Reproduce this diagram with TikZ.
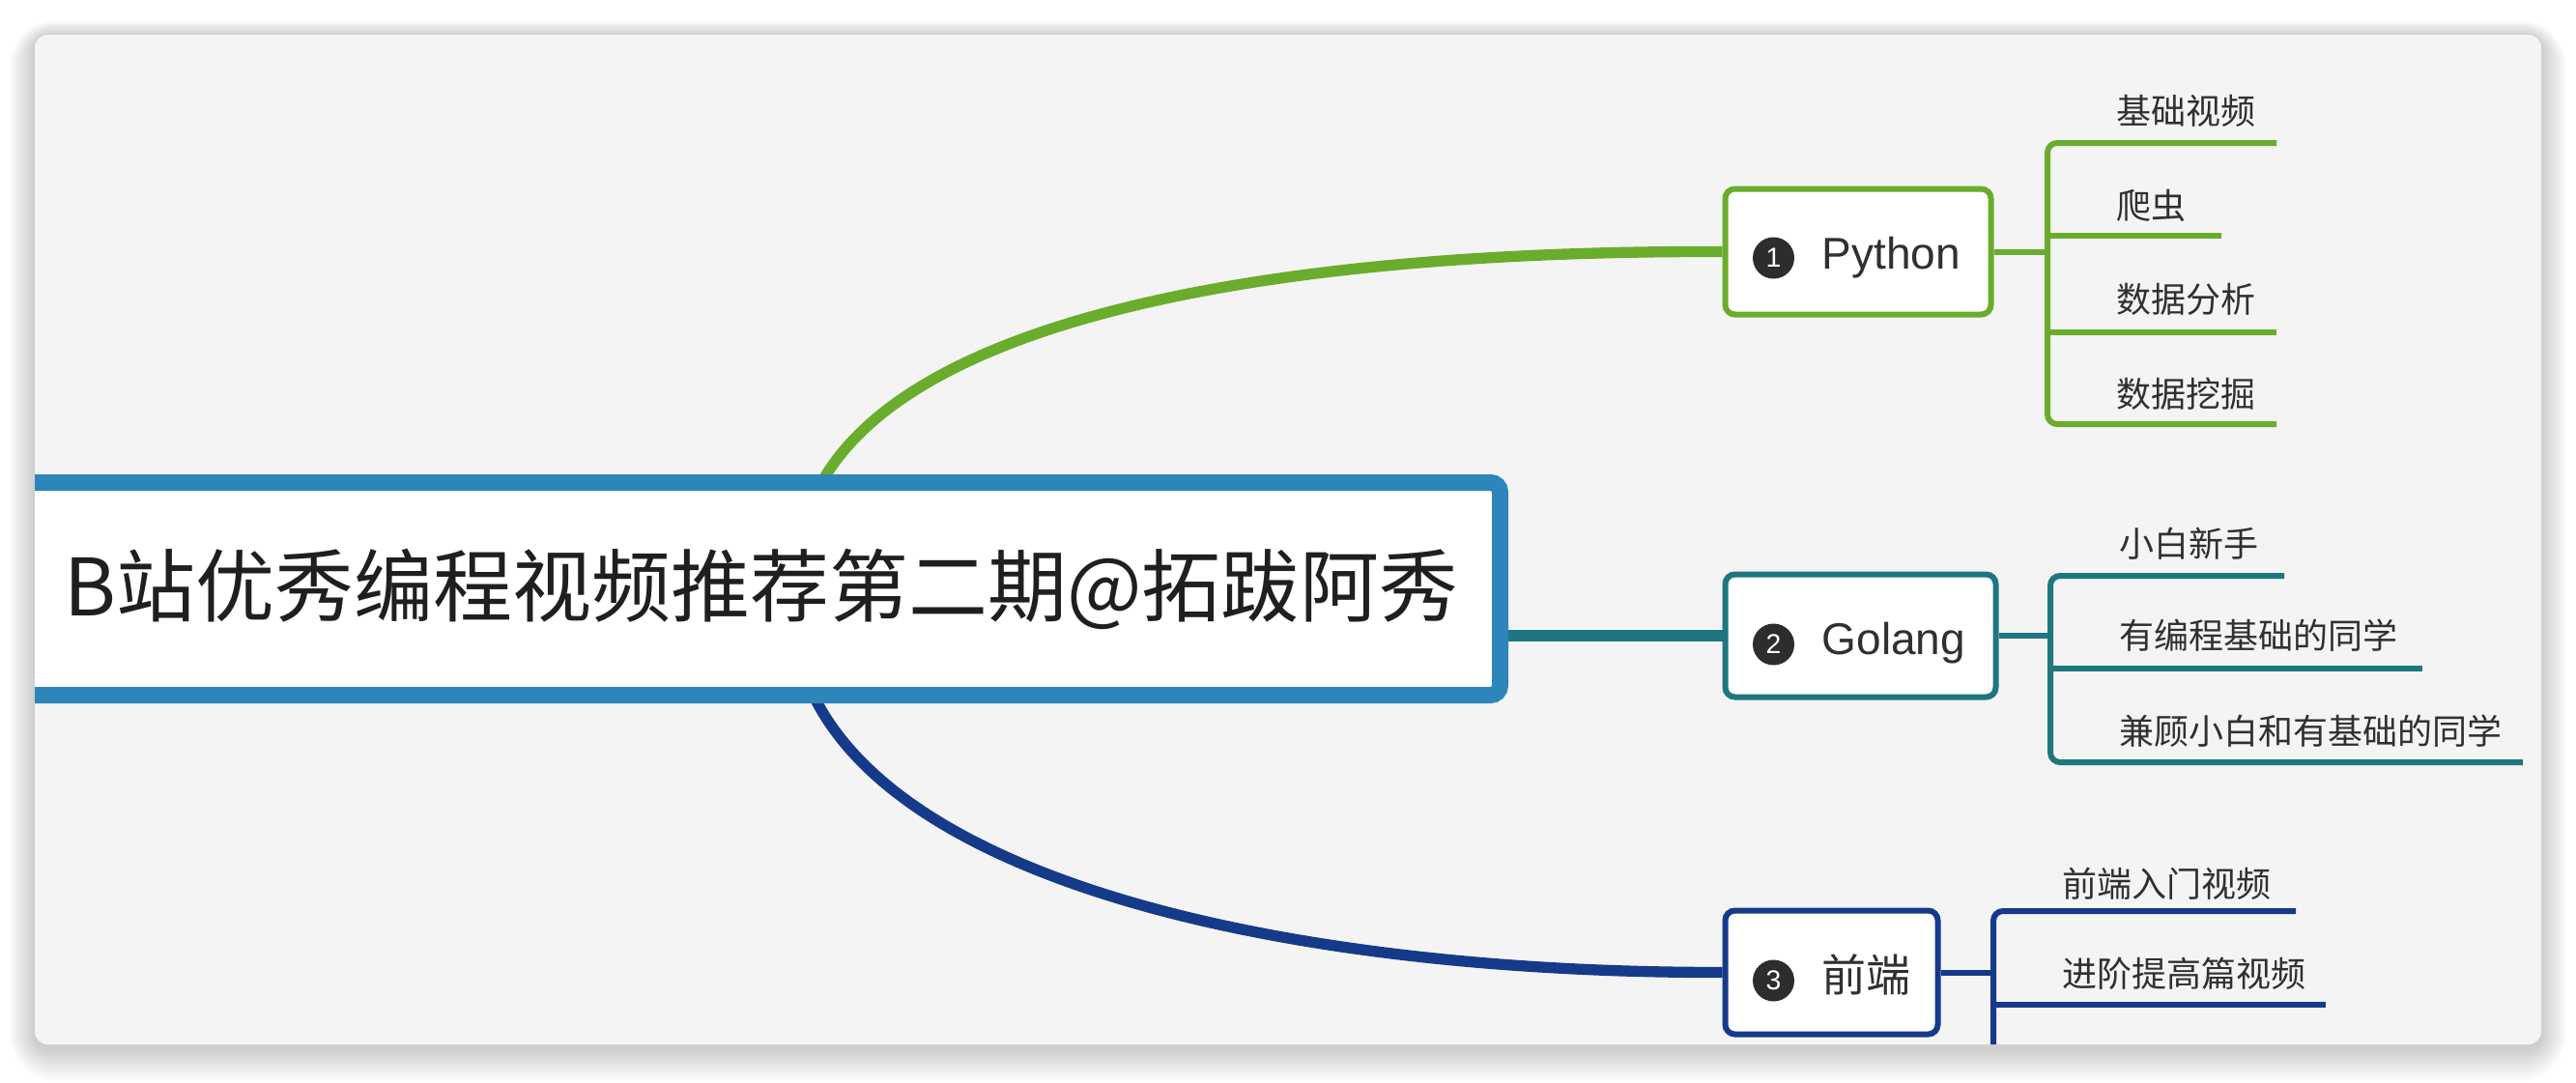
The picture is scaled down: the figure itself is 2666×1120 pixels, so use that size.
\documentclass[tikz,border=0pt]{standalone}
\usepackage{fontspec}
\setmainfont{Noto Sans CJK SC}
\newfontfamily\latinf{Liberation Sans}
\definecolor{panelbg}{RGB}{244,244,244}
\definecolor{rootblue}{RGB}{44,134,186}
\definecolor{cgreen}{RGB}{106,172,44}
\definecolor{cteal}{RGB}{30,118,128}
\definecolor{cnavy}{RGB}{22,58,138}
\definecolor{txt}{RGB}{48,48,48}
\definecolor{dotc}{RGB}{45,45,45}
\pgfdeclarelayer{back}
\pgfdeclarelayer{links}
\pgfsetlayers{back,links,main}
\begin{document}
\begin{tikzpicture}[x=0.3pt,y=-0.3pt,
 rootbox/.style={draw=rootblue, fill=white, line width=5.1pt, rounded corners=3pt,
   minimum width=458.7pt, minimum height=66pt, inner sep=0pt,
   font=\fontsize{24.6pt}{28pt}\selectfont, text=black!88},
 branchbox/.style={draw=#1, fill=white, line width=1.8pt, rounded corners=3pt, inner sep=0pt},
 numdot/.style={circle, fill=dotc, text=white, minimum size=12.9pt, inner sep=0pt,
   font=\latinf\fontsize{8.5pt}{9pt}\selectfont},
 branchtext/.style={text=txt, inner sep=0pt, anchor=base west, font=\latinf\fontsize{13.8pt}{16pt}\selectfont},
 branchcjk/.style={text=txt, inner sep=0pt, anchor=west, font=\fontsize{13.8pt}{16pt}\selectfont},
 leaf/.style={text=txt, inner sep=0pt, anchor=west, font=\fontsize{10.8pt}{12pt}\selectfont},
 mainline/.style={line width=3.4pt},
 subline/.style={line width=1.8pt},
 panelclip/.style={rounded corners=4pt},
]
% page, shadow and panel
\begin{pgfonlayer}{back}
\fill[white] (0,0) rectangle (2666,1120);
\foreach \i in {1,...,12}{
  \fill[black, opacity=0.014, rounded corners=4pt+\i*0.9pt]
    (36-\i*2.2, 36-\i*1.4+2) rectangle (2630+\i*2.2, 1081+\i*2.8+4);
}
\fill[panelbg, rounded corners=4pt] (36,36) rectangle (2630,1081);
\end{pgfonlayer}
\useasboundingbox (0,0) rectangle (2666,1120);

\begin{scope}
\clip[panelclip] (36,36) rectangle (2630,1081);
% root
\node[rootbox] (root) at (788,609.5) {B站优秀编程视频推荐第二期@拓跋阿秀};
\coordinate (rA) at (850,500);
\coordinate (rB) at (842,720);

% Python branch
\node[branchbox=cgreen, minimum width=82.5pt, minimum height=39pt] (py) at (1923,260.5) {};
\node[numdot] (n1) at (1835.5,267) {1};
\node[branchtext] (tpy) at (1885,278) {Python};
\node[leaf] (l11) at (2190,115) {基础视频};
\node[leaf] (l12) at (2190,213) {爬虫};
\node[leaf] (l13) at (2190,310) {数据分析};
\node[leaf] (l14) at (2190,408) {数据挖掘};
\coordinate (pyv1) at (2119,148);
\coordinate (pyv4) at (2119,439);
\coordinate (pye1) at (2356,148);
\coordinate (pye2) at (2299,244);
\coordinate (pye3) at (2356,344);
\coordinate (pye4) at (2356,439);

% Golang branch
\node[branchbox=cteal, minimum width=84pt, minimum height=38.1pt] (go) at (1925.5,658) {};
\node[numdot] (n2) at (1835.5,667) {2};
\node[branchtext] (tgo) at (1885,677) {Golang};
\node[leaf] (l21) at (2193,563) {小白新手};
\node[leaf] (l22) at (2193,658) {有编程基础的同学};
\node[leaf] (l23) at (2193,757) {兼顾小白和有基础的同学};
\coordinate (gov1) at (2122,596);
\coordinate (gov3) at (2122,789);
\coordinate (goe1) at (2364,596);
\coordinate (goe2) at (2507,692);
\coordinate (goe3) at (2611,789);

% Frontend branch
\node[branchbox=cnavy, minimum width=66pt, minimum height=38.4pt] (fe) at (1895.5,1006.5) {};
\node[numdot] (n3) at (1835.5,1015) {3};
\node[branchcjk] (tfe) at (1885,1009) {前端};
\node[leaf] (l31) at (2134,915) {前端入门视频};
\node[leaf] (l32) at (2134,1008) {进阶提高篇视频};
\coordinate (fev1) at (2063,943);
\coordinate (fev9) at (2063,1140);
\coordinate (fee1) at (2376,943);
\coordinate (fee2) at (2407,1040);
\end{scope}

% connectors
\begin{pgfonlayer}{links}
\begin{scope}
\clip[panelclip] (36,36) rectangle (2630,1081);
\draw[mainline, cgreen] (rA) .. controls (950,320) and (1350,259) .. (py.west);
\draw[mainline, cteal] (root.east |- go.west) -- (go.west);
\draw[mainline, cnavy] (rB) .. controls (940,920) and (1350,1007) .. (fe.west);

\draw[subline, cgreen] (py.east) -- (pyv1 |- py.east);
\draw[subline, cgreen, rounded corners=3pt] (pye1) -- (pyv1) -- (pyv4) -- (pye4);
\draw[subline, cgreen] (pyv1 |- pye2) -- (pye2);
\draw[subline, cgreen] (pyv1 |- pye3) -- (pye3);

\draw[subline, cteal] (go.east) -- (gov1 |- go.east);
\draw[subline, cteal, rounded corners=3pt] (goe1) -- (gov1) -- (gov3) -- (goe3);
\draw[subline, cteal] (gov1 |- goe2) -- (goe2);

\draw[subline, cnavy] (fe.east) -- (fev1 |- fe.east);
\draw[subline, cnavy, rounded corners=3pt] (fee1) -- (fev1) -- (fev9);
\draw[subline, cnavy] (fev1 |- fee2) -- (fee2);
\end{scope}
\end{pgfonlayer}
\end{tikzpicture}
\end{document}
